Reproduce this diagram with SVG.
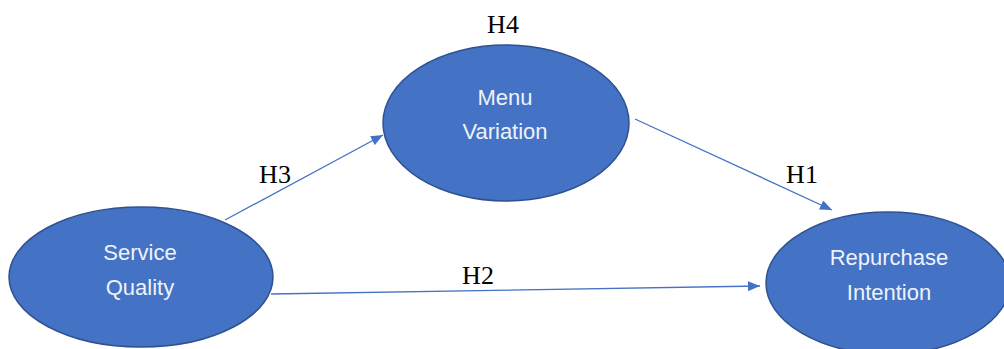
<svg xmlns="http://www.w3.org/2000/svg" width="1004" height="349" viewBox="0 0 1004 349">
<defs>
<marker id="arr" viewBox="0 0 12 10" refX="12" refY="5" markerWidth="12" markerHeight="10" markerUnits="userSpaceOnUse" orient="auto">
<path d="M0,0 L12,5 L0,10 Z" fill="#4472c4"/>
</marker>
<style>
.node{fill:#4472c4;stroke:#2f528f;stroke-width:1.5}
.nt{font-family:"Liberation Sans",Arial,sans-serif;font-size:22px;fill:#eef2fa;text-anchor:middle}
.lbl{font-family:"Liberation Serif","Times New Roman",serif;font-size:26px;fill:#000;text-anchor:middle}
.edge{stroke:#4472c4;stroke-width:1.3;fill:none;marker-end:url(#arr)}
</style>
</defs>
<rect width="1004" height="349" fill="#fff"/>
<g id="connectors">
<line class="edge" x1="225" y1="220" x2="383" y2="135"/>
<line class="edge" x1="635" y1="119" x2="832" y2="210"/>
<line class="edge" x1="271" y1="294" x2="760" y2="286"/>
</g>
<g id="service-quality">
<ellipse class="node" cx="141" cy="277" rx="132" ry="70"/>
<text class="nt" x="140" y="260">Service</text>
<text class="nt" x="140" y="295">Quality</text>
</g>
<g id="menu-variation">
<ellipse class="node" cx="506" cy="123" rx="123" ry="78"/>
<text class="nt" x="505" y="105">Menu</text>
<text class="nt" x="505" y="139">Variation</text>
</g>
<g id="repurchase-intention">
<ellipse class="node" cx="888" cy="283" rx="122" ry="71"/>
<text class="nt" x="889" y="265">Repurchase</text>
<text class="nt" x="889" y="300">Intention</text>
</g>
<g id="labels">
<text class="lbl" x="503" y="33">H4</text>
<text class="lbl" x="275" y="183">H3</text>
<text class="lbl" x="802" y="183">H1</text>
<text class="lbl" x="478" y="284">H2</text>
</g>
</svg>
